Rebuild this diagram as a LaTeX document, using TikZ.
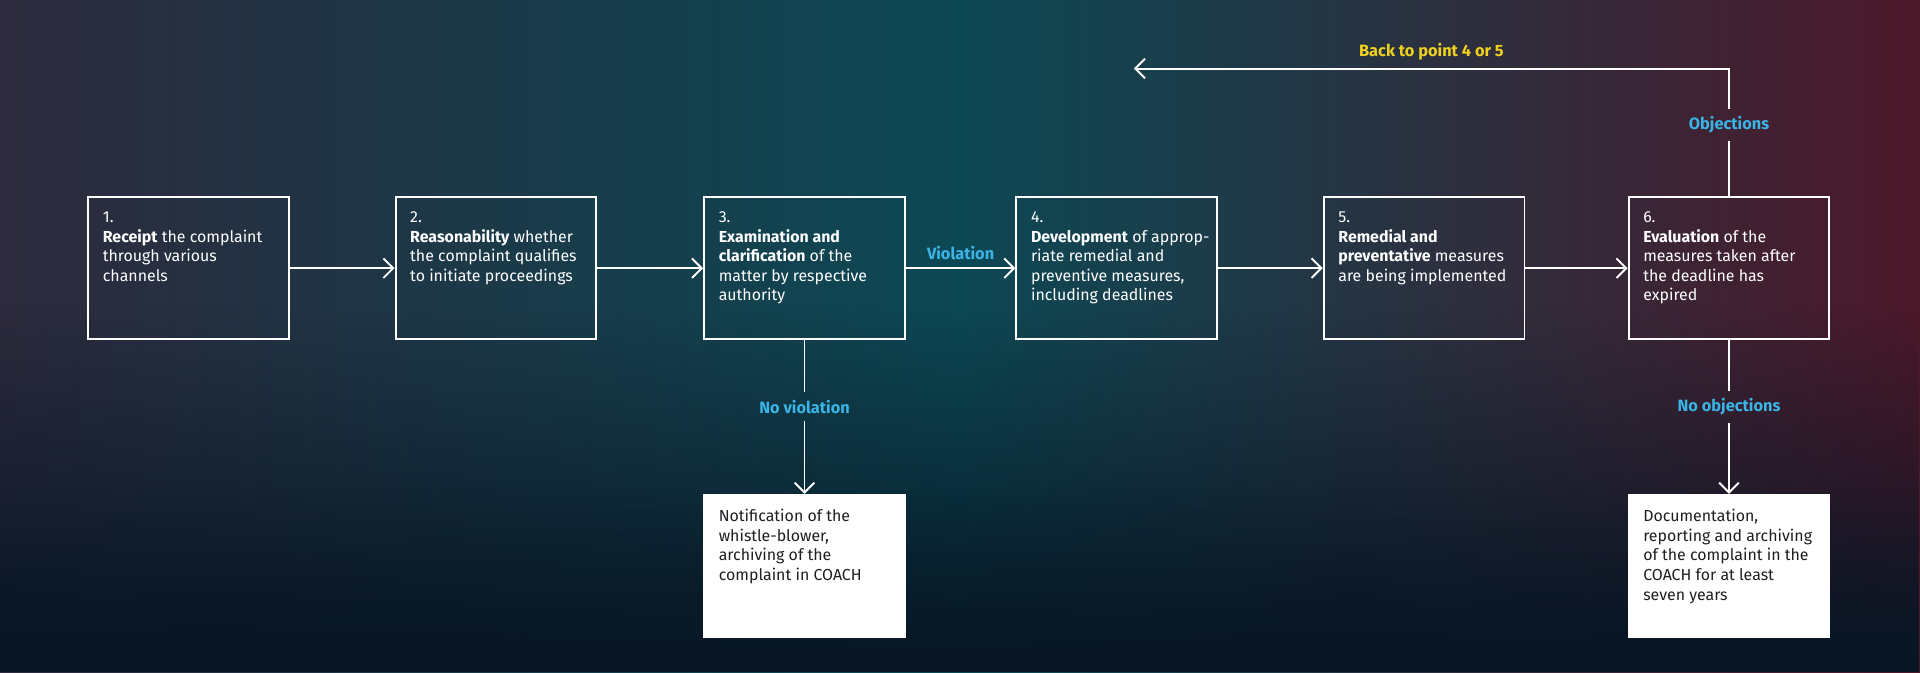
\documentclass[tikz,border=0pt]{standalone}
\usepackage{fontspec}
\setmainfont{Fira Sans}
\usetikzlibrary{arrows.meta}
\usetikzlibrary{positioning}
\usetikzlibrary{fadings}
\definecolor{bgleft}{RGB}{44,42,60}
\definecolor{bgmid}{RGB}{12,72,84}
\definecolor{bgright}{RGB}{76,24,42}
\definecolor{bgdeep}{RGB}{8,22,36}
\definecolor{lblue}{RGB}{58,180,230}
\definecolor{lyellow}{RGB}{240,210,30}
\definecolor{ink}{RGB}{30,30,35}
\tikzset{
  stepbox/.style={draw=white, line width=0.9pt, text=white, inner ysep=0.24cm,
    inner xsep=0.19cm, font=\fontsize{7.4}{9.1}\selectfont},
  notebox/.style={stepbox, fill=white, text=ink},
  flow/.style={draw=white, line width=0.9pt, -{Straight Barb[length=1.6mm,width=3.2mm]}},
  plain/.style={draw=white, line width=0.9pt},
  tag/.style={font=\bfseries\fontsize{7.6}{9}\selectfont, text=lblue},
}
\newcommand{\boxtext}[1]{\hspace*{0.05cm}\parbox[c][1.84cm][t]{2.85cm}{\raggedright #1}}
\begin{document}
\begin{tikzpicture}[x=0.02cm, y=-0.02cm]
  % background
  \shade[left color=bgleft, right color=bgright, middle color=bgmid] (0,0) rectangle (1568,549);
  \fill[bgdeep, path fading=north] (0,250) rectangle (1568,549);
  \fill[bgdeep, path fading=north, opacity=0.6] (0,400) rectangle (1568,549);
  \useasboundingbox (0,0) rectangle (1568,549);

  % steps
  \node[stepbox] (s1) at (154,219) {\boxtext{1.\\\textbf{Receipt} the complaint through various channels}};
  \node[stepbox] (s2) at (405,219) {\boxtext{2.\\\textbf{Reasonability} whether the complaint qualifies to initiate proceedings}};
  \node[stepbox] (s3) at (657,219) {\boxtext{3.\\\textbf{Examination and clarification} of the matter by respective authority}};
  \node[stepbox] (s4) at (912,219) {\boxtext{4.\\\mbox{\textbf{Development} of approp-}\\riate remedial and preventive measures, including deadlines}};
  \node[stepbox] (s5) at (1163,219) {\boxtext{5.\\\textbf{Remedial and preventative} measures are being implemented}};
  \node[stepbox] (s6) at (1412,219) {\boxtext{6.\\\textbf{Evaluation} of the measures taken after the deadline has expired}};

  \node[notebox] (n3) at (657,462) {\boxtext{Notification of the whistle-blower, archiving of the complaint in COACH}};
  \node[notebox] (n6) at (1412,462) {\boxtext{Documentation, reporting and archiving of the complaint in the COACH for at least seven years}};

  \draw[flow] (s1) -- (s2);
  \draw[flow] (s2) -- (s3);
  \draw[flow] (s3) -- node[tag, above] (viol) {Violation} (s4);
  \draw[flow] (s4) -- (s5);
  \draw[flow] (s5) -- (s6);

  % no violation branch
  \node[tag] (noviol) at (657,332) {No violation};
  \draw[plain] (s3) -- (noviol);
  \draw[flow] (noviol) -- (n3);

  % no objections branch
  \node[tag] (noobj) at (1412,332) {No objections};
  \draw[plain] (s6) -- (noobj);
  \draw[flow] (noobj) -- (n6);

  % objections loop back
  \node[tag] (obj) at (1412,102) {Objections};
  \coordinate (corner) at (1412,56);
  \coordinate (back) at (926,56);
  \draw[plain] (s6) -- (obj);
  \draw[flow] (obj) -- (corner) -- node[above, tag, text=lyellow, pos=0.5] (backlbl) {Back to point 4 or 5} (back);
\end{tikzpicture}
\end{document}
